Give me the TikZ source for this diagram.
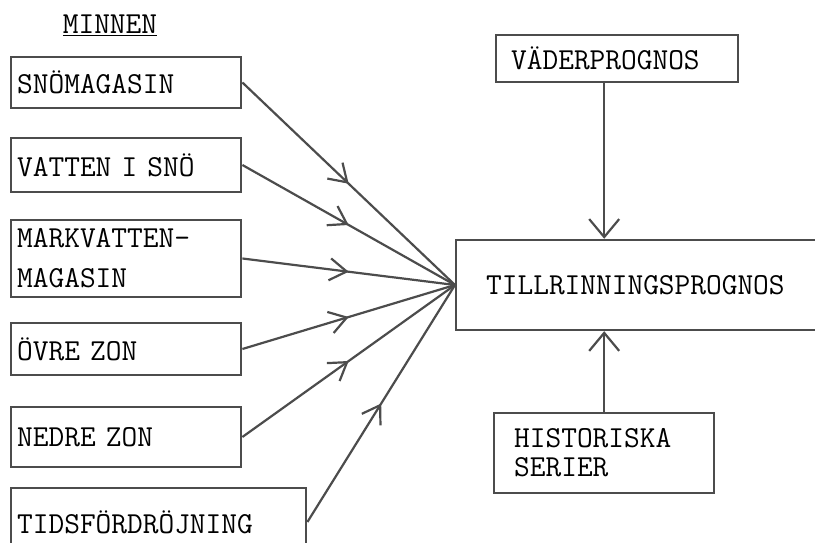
\documentclass[tikz,border=0pt]{standalone}
\usetikzlibrary{arrows.meta,decorations.markings}
\begin{document}
\begin{tikzpicture}[x=1pt,y=1pt,
    box/.style={draw=black!70, line width=2.4pt, anchor=west, align=left,
        inner xsep=6pt, inner ysep=0pt, font=\fontsize{30.5}{36}\selectfont\ttfamily},
    memory/.style={box, text width=218pt},
    feed/.style={draw=black!70, line width=2.2pt, postaction={decorate},
        decoration={markings, mark=at position 0.5 with {\arrow{Straight Barb[length=17pt,width=22pt]}}}},
    input/.style={draw=black!70, line width=2.2pt, -{Straight Barb[length=18pt,width=30pt]}}]

    % Variables for the page and the left column
    \def\pagewidth{815}
    \def\pageheight{543}
    \def\boxleft{10}

    \useasboundingbox (0,0) rectangle (\pagewidth,\pageheight);
    \clip (0,0) rectangle (\pagewidth,\pageheight);

    % Title of the left column
    \node[inner sep=0pt, font=\fontsize{30.5}{36}\selectfont\ttfamily] (title) at (110,518) {\underline{MINNEN}};

    % Memory boxes
    \node[memory, minimum height=51pt] (snow) at (\boxleft,460.5) {SNÖMAGASIN};
    \node[memory, minimum height=54pt] (water) at (\boxleft,378) {VATTEN I SNÖ};
    \node[memory, minimum height=77pt] (soil) at (\boxleft,284.5) {MARKVATTEN-\\[4pt]MAGASIN};
    \node[memory, minimum height=52pt] (upper) at (\boxleft,194) {ÖVRE ZON};
    \node[memory, minimum height=60pt] (lower) at (\boxleft,106) {NEDRE ZON};
    \node[box, text width=283pt, minimum height=68pt] (delay) at (\boxleft,21) {TIDSFÖRDRÖJNING};

    % Forecast column
    \node[box, inner xsep=15pt, text width=212pt, minimum height=47pt] (weather) at (495,484.5) {VÄDERPROGNOS};
    \node[box, inner xsep=30pt, text width=320pt, minimum height=90pt] (forecast) at (455,258) {TILLRINNINGSPROGNOS};
    \node[box, inner xsep=20pt, text width=180pt, minimum height=80pt] (history) at (493,90) {HISTORISKA\\[-7pt]SERIER};

    % Arrows from the memories
    \foreach \src in {snow,water,soil,upper,lower,delay}
        \draw[feed] (\src.east) -- (forecast.west);

    % Arrows into the forecast
    \draw[input] (history.north |- weather.south) -- (history.north |- forecast.north);
    \draw[input] (history.north) -- (history.north |- forecast.south);

\end{tikzpicture}
\end{document}
